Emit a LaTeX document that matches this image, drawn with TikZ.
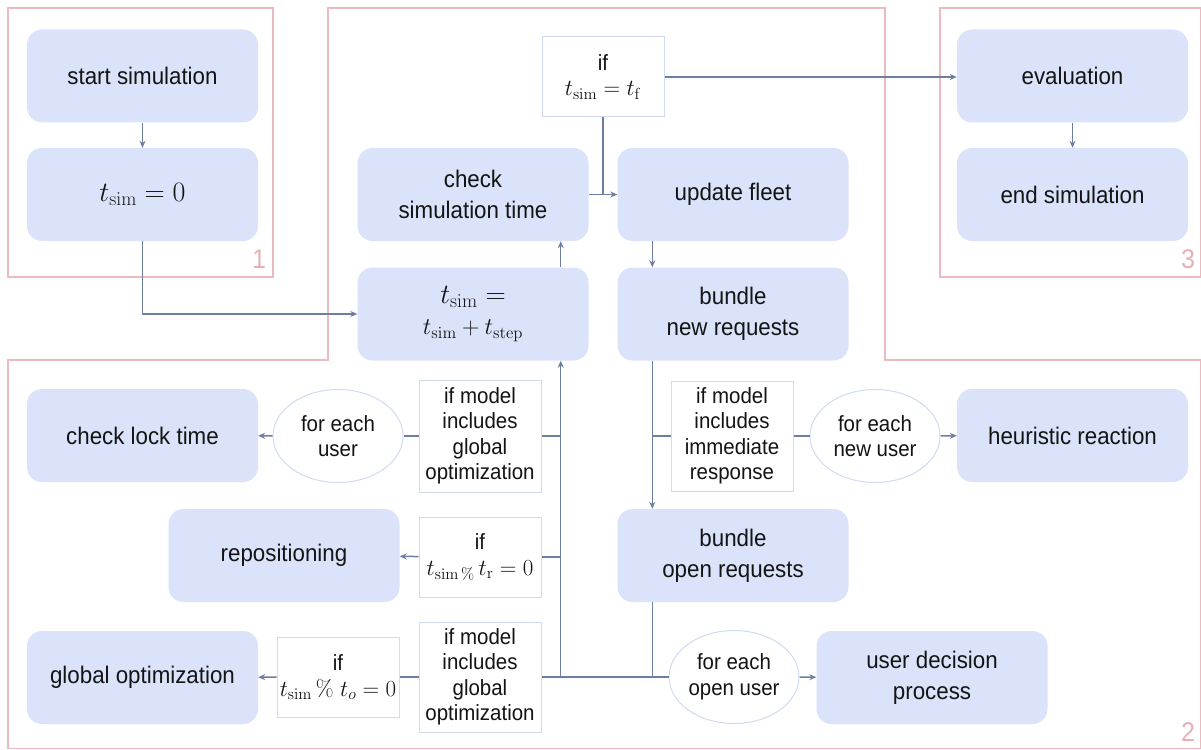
\RequirePackage{fix-cm}
\documentclass[tikz,border=0pt]{standalone}
\usepackage[no-math]{fontspec}
\setmainfont{Liberation Sans}[FakeStretch=0.93]
\usetikzlibrary{shapes.geometric,arrows.meta}
\definecolor{boxfill}{RGB}{218,227,250}
\definecolor{wire}{RGB}{110,125,162}
\definecolor{condline}{RGB}{208,219,242}
\definecolor{panel}{RGB}{234,186,190}
\definecolor{panelnum}{RGB}{232,176,182}
\definecolor{ink}{RGB}{20,20,20}
\newcommand{\srm}[1]{\mathrm{#1}}
\begin{document}
\begin{tikzpicture}[x=1pt,y=-1pt,
  mainbox/.style={rectangle, rounded corners=15pt, fill=boxfill, minimum width=231pt,
    minimum height=93pt, inner sep=0pt, align=center, text=ink,
    font=\fontsize{24}{31}\selectfont},
  condbox/.style={rectangle, draw=condline, line width=1pt, fill=white, minimum width=122pt,
    inner sep=0pt, align=center, text=ink, font=\fontsize{22}{25.5}\selectfont},
  loopnode/.style={ellipse, draw=condline, line width=1pt, fill=white, minimum width=130pt,
    minimum height=93pt, inner sep=0pt, align=center, text=ink,
    font=\fontsize{22}{25.5}\selectfont},
  wireline/.style={draw=wire, line width=1.5pt},
  flow/.style={wireline, -{Stealth[length=7pt,width=6pt]}},
  panelframe/.style={draw=panel, line width=1.2pt},
  panelno/.style={text=panelnum, font=\fontsize{27}{27}\selectfont, inner sep=0pt}
]
\useasboundingbox (0,0) rectangle (1201,749);

% phase frames
\draw[panelframe] (8,8) rectangle (273,277);
\draw[panelframe] (940,8) rectangle (1200.5,277);
\draw[panelframe] (328,8) -- (885,8) -- (885,360) -- (1200.5,360) -- (1200.5,748.5)
  -- (8,748.5) -- (8,360) -- (328,360) -- cycle;
\node[panelno] (n1) at (259,259) {1};
\node[panelno] (n2) at (1188,732) {2};
\node[panelno] (n3) at (1188,259) {3};

% process steps
\node[mainbox] (start)   at (142.5,76)    {start simulation};
\node[mainbox] (t0)      at (142.5,194.5) {\fontsize{28}{31}\selectfont$t_{\srm{sim}} = 0$};
\node[mainbox] (check)   at (473,194.5)   {check\\simulation time};
\node[mainbox] (fleet)   at (733,194.5)   {update fleet};
\node[mainbox] (eval)    at (1072.5,76)   {evaluation};
\node[mainbox] (endsim)  at (1072.5,194.5){end simulation};
\node[mainbox] (step)    at (473,314)     {\fontsize{28}{34}\selectfont$t_{\srm{sim}} =$\\$t_{\srm{sim}} + t_{\srm{step}}$};
\node[mainbox] (newreq)  at (733,314)     {bundle\\new requests};
\node[mainbox] (lock)    at (142.5,435.5) {check lock time};
\node[mainbox] (heur)    at (1072.5,435.5){heuristic reaction};
\node[mainbox] (repos)   at (284,555.5)   {repositioning};
\node[mainbox] (openreq) at (733,555.5)   {bundle\\open requests};
\node[mainbox] (gopt)    at (142.5,677.5) {global optimization};
\node[mainbox] (udp)     at (932,677.5)   {user decision\\process};

% conditions
\node[condbox, minimum height=80pt]  (tf)      at (603,77)
  {if\\\fontsize{23}{27}\selectfont$t_{\srm{sim}} = t_{\srm{f}}$};
\node[condbox, minimum height=112pt] (glob1)   at (480,436) {if model\\includes\\global\\optimization};
\node[condbox, minimum height=80pt]  (condr)   at (480,557)
  {if\\\fontsize{23}{27}\selectfont$t_{\srm{sim}\,\%}\,t_{\srm{r}} = 0$};
\node[condbox, minimum height=80pt]  (condo)   at (338,677)
  {if\\\fontsize{23}{27}\selectfont$t_{\srm{sim}}\,\%\;t_{o} = 0$};
\node[condbox, minimum height=110pt] (glob2)   at (480,677) {if model\\includes\\global\\optimization};
\node[condbox, minimum height=110pt] (immresp) at (732,436) {if model\\includes\\immediate\\response};

% loops over users
\node[loopnode] (eachuser) at (338,436) {for each\\user};
\node[loopnode] (newuser)  at (875,436) {for each\\new user};
\node[loopnode] (openuser) at (734,677) {for each\\open user};

% trunk positions
\coordinate (lx) at ([xshift=-28pt]step.south east);
\coordinate (rx) at ([xshift=35pt]newreq.south west);

% phase 1 and 3
\draw[flow] (start) -- (t0);
\draw[flow] (eval) -- (endsim);
\draw[flow] (t0.south) |- (step.west);

% main loop
\draw[flow] ([xshift=-28pt]step.north east) -- ([xshift=-28pt]check.south east);
\draw[flow] (check) -- (fleet);
\draw[wireline] (tf.south) -- (tf.south |- check.east);
\draw[flow] (tf.east) -- (tf.east -| eval.west);
\draw[flow] ([xshift=35pt]fleet.south west) -- ([xshift=35pt]newreq.north west);
\draw[flow] (rx) -- ([xshift=35pt]openreq.north west);

% immediate response branch
\draw[wireline] (rx |- immresp.west) -- (immresp.west);
\draw[wireline] (immresp) -- (newuser);
\draw[flow] (newuser) -- (heur);

% open requests and return to the time step
\draw[wireline] ([xshift=35pt]openreq.south west) -- (rx |- openuser.west);
\draw[wireline] (glob2.east) -- (openuser.west);
\draw[flow] (openuser) -- (udp);
\draw[flow] (lx |- glob2.east) -- (lx);

% left branches
\draw[wireline] (lx |- glob1.east) -- (glob1.east);
\draw[wireline] (glob1) -- (eachuser);
\draw[flow] (eachuser) -- (lock);
\draw[wireline] (lx |- condr.east) -- (condr.east);
\draw[flow] (condr) -- (repos);
\draw[wireline] (glob2) -- (condo);
\draw[flow] (condo) -- (gopt);
\end{tikzpicture}
\end{document}
